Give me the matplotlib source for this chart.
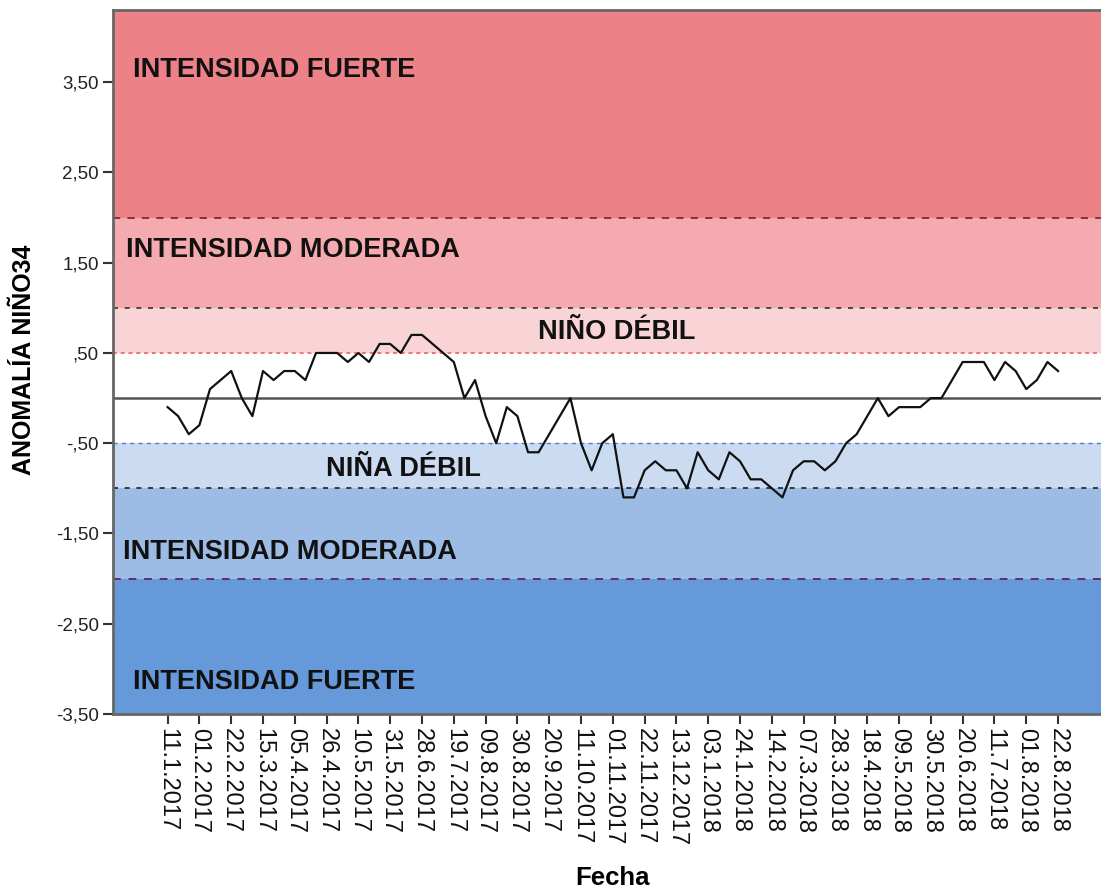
import matplotlib.pyplot as plt

plt.rcParams['font.family'] = ['Liberation Sans', 'DejaVu Sans']

# weekly Niño 3.4 anomaly, one value per date in the series
anomalia = [
    -0.1, -0.2, -0.4, -0.3, 0.1, 0.2, 0.3, 0.0, -0.2, 0.3,
    0.2, 0.3, 0.3, 0.2, 0.5, 0.5, 0.5, 0.4, 0.5, 0.4,
    0.6, 0.6, 0.5, 0.7, 0.7, 0.6, 0.5, 0.4, 0.0, 0.2,
    -0.2, -0.5, -0.1, -0.2, -0.6, -0.6, -0.4, -0.2, 0.0, -0.5,
    -0.8, -0.5, -0.4, -1.1, -1.1, -0.8, -0.7, -0.8, -0.8, -1.0,
    -0.6, -0.8, -0.9, -0.6, -0.7, -0.9, -0.9, -1.0, -1.1, -0.8,
    -0.7, -0.7, -0.8, -0.7, -0.5, -0.4, -0.2, 0.0, -0.2, -0.1,
    -0.1, -0.1, 0.0, 0.0, 0.2, 0.4, 0.4, 0.4, 0.2, 0.4,
    0.3, 0.1, 0.2, 0.4, 0.3,
]

# every third date is labelled on the axis
fechas_etiqueta = [
    "11.1.2017", "01.2.2017", "22.2.2017", "15.3.2017", "05.4.2017",
    "26.4.2017", "10.5.2017", "31.5.2017", "28.6.2017", "19.7.2017",
    "09.8.2017", "30.8.2017", "20.9.2017", "11.10.2017", "01.11.2017",
    "22.11.2017", "13.12.2017", "03.1.2018", "24.1.2018", "14.2.2018",
    "07.3.2018", "28.3.2018", "18.4.2018", "09.5.2018", "30.5.2018",
    "20.6.2018", "11.7.2018", "01.8.2018", "22.8.2018",
]
paso_etiqueta = 3

y_ticks = [3.5, 2.5, 1.5, 0.5, -0.5, -1.5, -2.5, -3.5]
y_ticklabels = ["3,50", "2,50", "1,50", ",50", "-,50", "-1,50", "-2,50", "-3,50"]

# intensity bands: (low, high, colour)
Y_MIN, Y_MAX = -3.5, 4.3
bandas = [
    (2.0, Y_MAX, "#ec8188"),
    (1.0, 2.0, "#f4aaae"),
    (0.5, 1.0, "#f9d4d7"),
    (-1.0, -0.5, "#cbdbf1"),
    (-2.0, -1.0, "#9dbce5"),
    (Y_MIN, -2.0, "#6699d9"),
]
# threshold lines: (y, colour, linestyle, width)
umbrales = [
    (2.0, "#7a2a35", (0, (4, 4)), 1.3),
    (1.0, "#333333", (0, (3, 4)), 1.2),
    (0.5, "#f07378", (0, (2, 2)), 1.4),
    (-0.5, "#5a78c8", (0, (3, 3)), 1.0),
    (-1.0, "#222222", (0, (3, 4)), 1.2),
    (-2.0, "#6a2a66", (0, (4, 4)), 1.4),
]

etiquetas = [
    (-3.25, 3.64, "INTENSIDAD FUERTE"),
    (-3.9, 1.64, "INTENSIDAD MODERADA"),
    (34.9, 0.73, "NIÑO DÉBIL"),
    (14.95, -0.78, "NIÑA DÉBIL"),
    (-4.2, -1.71, "INTENSIDAD MODERADA"),
    (-3.25, -3.14, "INTENSIDAD FUERTE"),
]

fig = plt.figure(figsize=(11.01, 8.88), dpi=100)
ax = fig.add_axes([113 / 1101, 174 / 888, 988 / 1101, 704 / 888])

x = list(range(len(anomalia)))
ax.set_xlim(-5.15, len(anomalia) + 3.05)
ax.set_ylim(Y_MIN, Y_MAX)

for lo, hi, color in bandas:
    ax.axhspan(lo, hi, color=color, lw=0, zorder=0)
for y, color, ls, lw in umbrales:
    ax.axhline(y, color=color, ls=ls, lw=lw, zorder=1)
ax.axhline(0, color="#555555", lw=1.8, zorder=1)

ax.plot(x, anomalia, color="#111111", lw=1.6, zorder=3)

for tx, ty, texto in etiquetas:
    ax.text(tx, ty, texto, fontsize=19.5, fontweight="bold", color="#111111",
            ha="left", va="center", zorder=4)

ax.set_yticks(y_ticks)
ax.set_yticklabels(y_ticklabels, fontsize=13.5, color="#222222")
ax.set_xticks(x[::paso_etiqueta])
ax.set_xticklabels(fechas_etiqueta, rotation=-90, fontsize=17, color="#111111")
ax.tick_params(axis="both", direction="out", length=7.2, width=1.5, color="#333333")
ax.tick_params(axis="x", pad=3)
ax.tick_params(axis="y", pad=3)

for side in ["left", "top", "bottom"]:
    ax.spines[side].set_color("#666666")
    ax.spines[side].set_linewidth(2)
ax.spines["right"].set_visible(False)

ax.set_ylabel("ANOMALÍA NIÑO34", fontsize=18, fontweight="bold")
ax.yaxis.set_label_coords(-0.090, 0.503)
ax.yaxis.label.set_va("center")
ax.set_xlabel("Fecha", fontsize=18.5, fontweight="bold")
ax.xaxis.set_label_coords(0.506, -0.233)
ax.xaxis.label.set_va("center")

fig.savefig("out.png", dpi=100, facecolor="white")
